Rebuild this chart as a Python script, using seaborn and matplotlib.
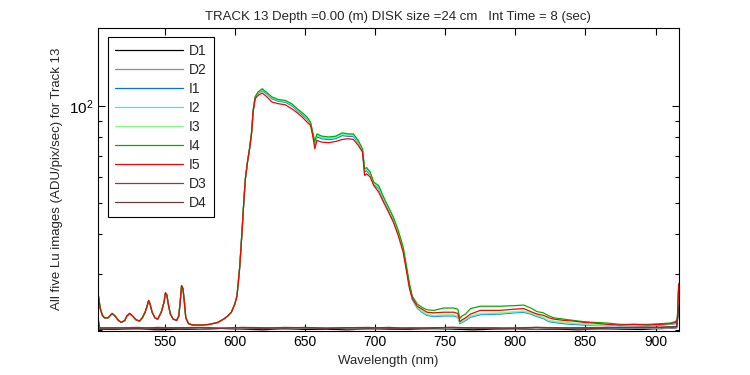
import numpy as np
import pandas as pd
import seaborn as sns
import matplotlib
matplotlib.use('Agg')
import matplotlib.pyplot as plt
from matplotlib.ticker import NullFormatter, FixedLocator

sns.set_theme(style='white')
plt.rcParams['font.family'] = ['Liberation Sans', 'DejaVu Sans']
plt.rcParams.update({'xtick.direction': 'in', 'ytick.direction': 'in',
                     'axes.edgecolor': 'black', 'axes.linewidth': 0.8})

# wavelengths (nm) where the five Lu spectra overlap, and the spectrum there
wl_vis = [502.5, 504, 505.5, 507, 509.5, 512.5, 514.5, 517, 519, 521.5,
          523, 525, 527, 529.5, 532, 534, 536, 537.5, 538.5, 539.5,
          541, 543, 545, 547.5, 549.5, 550.5, 551.5, 552.5, 554, 556,
          558.5, 560, 561, 562, 563, 564, 565, 567, 570, 577,
          582, 588, 592, 595, 597.5, 600, 601.5, 602.5, 603.5, 605]
lu_vis = [26.0, 23.4, 22.3, 21.9, 21.9, 22.6, 22.2, 21.5, 21.2, 21.5,
          22.2, 22.6, 22.2, 21.6, 21.4, 21.9, 22.8, 23.9, 24.8, 24.2,
          22.8, 21.9, 21.7, 22.8, 24.5, 26.2, 25.8, 24.2, 22.5, 21.7,
          21.5, 22.2, 24.5, 27.6, 27.0, 24.5, 21.9, 21.0, 20.8, 20.8,
          20.9, 21.2, 21.7, 22.2, 22.8, 24.2, 25.6, 28.4, 31.7, 40.0]

# wavelengths from the red edge onwards
wl_red = [606.5, 607.5, 609, 610.5, 612, 613, 614.5, 616.5, 619.5, 623,
          626.5, 631, 636, 640.5, 644.5, 648, 651.5, 654, 655.5, 657,
          658.5, 662, 667, 672, 676.5, 681, 684.5, 688, 691, 692.5,
          694, 696.5, 699, 702.5, 706, 709.5, 713, 716.5, 720, 722.5,
          724.5, 726.5, 730, 733.5, 737, 742, 749, 756, 759, 760.5,
          762, 764.5, 768, 775, 789, 799, 806, 811, 815.5, 820,
          824, 827.5, 834.5, 841.5, 849, 856, 865.5, 875, 884.5, 894,
          903.5, 910.5, 914, 915.5, 916.5]

i1_red = [51.5, 59.4, 66.9, 73.8, 83.2, 96.3, 106.2, 109.5, 111.8, 108.8,
          105.3, 103.5, 102.8, 100.3, 96.8, 94.0, 91.0, 87.9, 81.8, 75.8,
          80.2, 79.1, 78.6, 79.2, 80.9, 80.5, 80.4, 76.8, 72.6, 62.4,
          62.9, 61.1, 57.1, 55.3, 51.1, 47.5, 44.2, 40.1, 35.7, 30.9,
          27.4, 25.0, 23.5, 22.8, 22.3, 22.1, 22.2, 22.2, 22.0, 21.0,
          21.2, 21.5, 22.0, 22.4, 22.5, 22.7, 22.8, 22.5, 22.1, 21.8,
          21.3, 21.2, 21.0, 20.9, 20.8, 20.8, 20.7, 20.7, 20.7, 20.7,
          20.8, 20.9, 21.0, 21.3, 27.3]
i2_red = [51.5, 59.4, 67.0, 73.9, 83.3, 96.6, 106.5, 110.0, 112.4, 109.3,
          105.9, 104.0, 103.3, 100.9, 97.3, 94.6, 91.6, 88.4, 82.3, 76.5,
          80.9, 79.6, 79.1, 79.7, 81.5, 81.0, 80.9, 77.2, 72.9, 62.9,
          63.4, 61.5, 57.4, 55.7, 51.4, 47.8, 44.5, 40.4, 35.9, 31.1,
          27.6, 25.2, 23.6, 22.9, 22.4, 22.2, 22.3, 22.3, 22.1, 21.1,
          21.3, 21.6, 22.1, 22.5, 22.6, 22.8, 22.9, 22.6, 22.2, 21.9,
          21.4, 21.3, 21.1, 21.0, 20.9, 20.8, 20.7, 20.7, 20.7, 20.7,
          20.8, 20.9, 21.1, 21.4, 27.5]
i3_red = [51.5, 59.4, 67.0, 74.0, 83.4, 96.8, 106.8, 110.3, 112.8, 109.7,
          106.3, 104.4, 103.7, 101.3, 97.7, 94.9, 92.0, 88.7, 82.6, 77.0,
          81.4, 80.1, 79.6, 80.1, 82.0, 81.4, 81.4, 77.6, 73.2, 63.3,
          63.8, 61.9, 57.6, 56.1, 51.7, 48.1, 44.8, 40.7, 36.1, 31.3,
          27.8, 25.3, 23.7, 23.0, 22.5, 22.3, 22.4, 22.4, 22.2, 21.2,
          21.4, 21.7, 22.2, 22.6, 22.7, 22.9, 23.0, 22.7, 22.3, 22.0,
          21.5, 21.4, 21.2, 21.1, 21.0, 20.9, 20.8, 20.8, 20.8, 20.8,
          20.9, 21.0, 21.2, 21.5, 27.6]
i4_red = [51.5, 59.4, 67.0, 74.0, 83.5, 97.0, 107.0, 110.6, 113.2, 110.0,
          106.7, 104.8, 104.1, 101.7, 98.1, 95.3, 92.4, 89.1, 82.9, 77.5,
          81.9, 80.6, 80.1, 80.6, 82.5, 81.9, 81.9, 78.1, 73.6, 63.8,
          64.3, 62.3, 57.9, 56.6, 52.1, 48.5, 45.1, 41.0, 36.4, 31.5,
          28.0, 25.6, 24.2, 23.6, 23.2, 23.1, 23.5, 23.5, 23.3, 21.8,
          22.2, 22.5, 23.4, 23.8, 23.8, 23.9, 24.0, 23.5, 22.9, 22.7,
          22.2, 21.9, 21.7, 21.5, 21.3, 21.2, 21.1, 20.9, 20.9, 20.9,
          21.0, 21.1, 21.3, 21.6, 28.0]
i5_red = [51.5, 59.4, 66.9, 73.6, 82.9, 95.8, 105.4, 107.9, 109.8, 106.7,
          102.9, 101.7, 100.9, 98.1, 95.3, 92.4, 89.1, 87.0, 81.0, 73.6,
          78.1, 77.2, 76.9, 77.6, 78.7, 79.1, 78.7, 75.4, 71.9, 60.8,
          61.5, 60.1, 56.6, 54.0, 50.2, 46.8, 43.5, 39.5, 35.1, 30.4,
          27.0, 25.2, 23.8, 23.3, 22.8, 22.7, 22.8, 22.8, 22.6, 21.3,
          21.6, 21.9, 22.5, 23.1, 23.1, 23.3, 23.4, 22.9, 22.5, 22.3,
          21.9, 21.7, 21.5, 21.4, 21.2, 21.1, 20.9, 20.8, 20.9, 20.8,
          20.9, 21.0, 21.2, 21.5, 27.9]

# dark frames
wl_dark = [502.5, 503.5, 515, 530, 545, 560, 575, 590, 605, 620,
           635, 650, 665, 680, 695, 710, 725, 740, 755, 770,
           785, 800, 815, 830, 845, 860, 875, 890, 905, 915, 916.5]
d1 = [20.6, 20.2, 20.15, 20.25, 20.1, 20.2, 20.15, 20.3, 20.2, 20.1,
      20.25, 20.15, 20.2, 20.1, 20.25, 20.2, 20.15, 20.3, 20.2, 20.1,
      20.2, 20.25, 20.15, 20.2, 20.1, 20.25, 20.2, 20.15, 20.3, 20.4, 23.5]
d2 = [20.8, 20.3, 20.25, 20.2, 20.3, 20.35, 20.2, 20.3, 20.25, 20.3,
      20.2, 20.3, 20.35, 20.25, 20.2, 20.3, 20.25, 20.2, 20.3, 20.35,
      20.25, 20.3, 20.2, 20.3, 20.25, 20.2, 20.3, 20.35, 20.25, 20.4, 23.7]
d3 = [21.9, 20.4, 20.35, 20.45, 20.3, 20.4, 20.45, 20.35, 20.4, 20.3,
      20.45, 20.4, 20.35, 20.4, 20.45, 20.3, 20.4, 20.35, 20.45, 20.4,
      20.3, 20.4, 20.45, 20.35, 20.4, 20.45, 20.4, 20.5, 20.45, 20.6, 23.9]
d4 = [21.6, 20.35, 20.4, 20.3, 20.45, 20.35, 20.4, 20.3, 20.45, 20.4,
      20.35, 20.45, 20.3, 20.4, 20.35, 20.45, 20.3, 20.4, 20.45, 20.35,
      20.4, 20.3, 20.45, 20.4, 20.35, 20.3, 20.45, 20.4, 20.5, 20.55, 23.8]

colors = {'D1': '#000000', 'D2': '#8c8c8c', 'I1': '#0070ff', 'I2': '#40e8e8',
          'I3': '#80ff80', 'I4': '#00b000', 'I5': '#ff0000',
          'D3': '#804040', 'D4': '#703838'}

wl_lu = wl_vis + wl_red
series = [('D1', wl_dark, d1), ('D2', wl_dark, d2),
          ('I1', wl_lu, lu_vis + i1_red), ('I2', wl_lu, lu_vis + i2_red),
          ('I3', wl_lu, lu_vis + i3_red), ('I4', wl_lu, lu_vis + i4_red),
          ('I5', wl_lu, lu_vis + i5_red),
          ('D3', wl_dark, d3), ('D4', wl_dark, d4)]

fig = plt.figure(figsize=(7.5, 3.75), dpi=100)
ax = fig.add_axes([98/750, 1 - 330.5/375, 581/750, 302.5/375])

for name, x, y in series:
    sns.lineplot(x=x, y=y, ax=ax, color=colors[name], label=name,
                 sort=False, estimator=None, linewidth=0.9)

ax.set_yscale('log')
ax.set_xlim(502.4, 916.7)
ax.set_ylim(20, 175)
ax.set_xticks([550, 600, 650, 700, 750, 800, 850, 900])
ax.yaxis.set_major_locator(FixedLocator([100]))
ax.yaxis.set_minor_locator(FixedLocator([20, 30, 40, 50, 60, 70, 80, 90]))
ax.yaxis.set_minor_formatter(NullFormatter())
ax.xaxis.set_minor_locator(FixedLocator([]))
ax.tick_params(which='both', left=True, bottom=True, top=True, right=True,
               labelsize=10, colors='black')
ax.tick_params(which='major', length=5, width=0.8)
ax.tick_params(which='minor', length=3, width=0.8)
ax.tick_params(axis='y', which='major', labelsize=11)

ax.set_xlabel('Wavelength (nm)', fontsize=9.5, labelpad=4)
ax.set_ylabel('All five Lu images (ADU/pix/sec) for Track 13', fontsize=9.5)
ax.set_title('TRACK 13 Depth =0.00 (m) DISK size =24 cm   Int Time = 8 (sec)',
             fontsize=9.5, x=0.517, pad=6)

leg = ax.legend(loc='upper left', bbox_to_anchor=(0.017, 0.969), borderaxespad=0,
                fontsize=10, handlelength=4.9, handletextpad=0.45,
                labelspacing=0.36, borderpad=0.5, fancybox=False, framealpha=1)
leg.get_frame().set_edgecolor('black')
leg.get_frame().set_linewidth(0.8)

fig.savefig('out.png', dpi=100)
